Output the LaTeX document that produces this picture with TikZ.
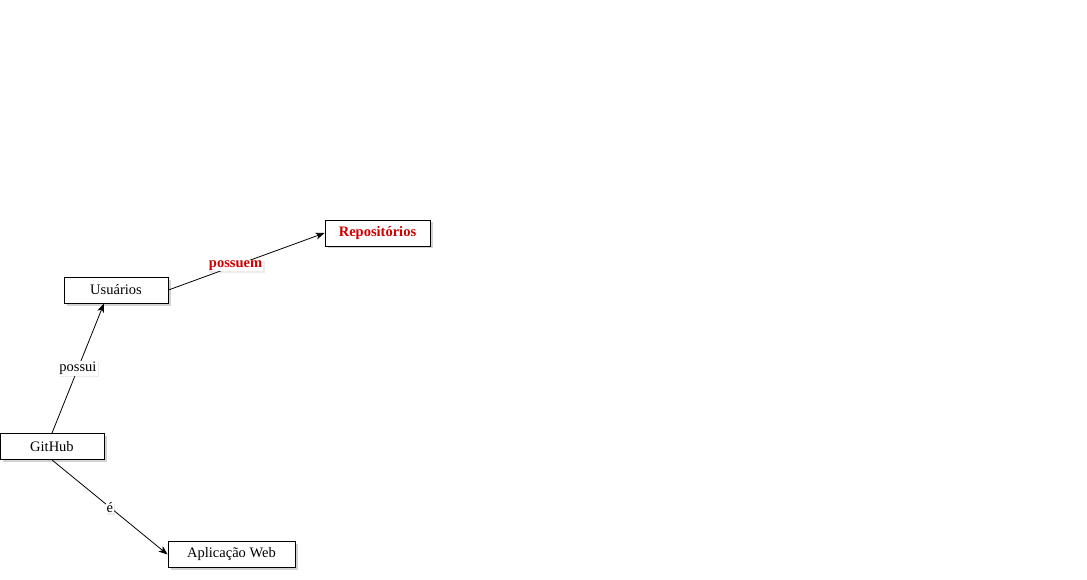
\documentclass[tikz,border=0pt]{standalone}
\usepackage{fontspec}
\setmainfont{Liberation Serif}
\usepackage{tikz}
\usetikzlibrary{positioning,shapes,arrows,arrows.meta,shadows}
\definecolor{destaque}{HTML}{CC0000}

\begin{document}
\begin{tikzpicture}[
  x=1pt, y=-1pt,
  font=\fontsize{14.5}{16}\selectfont,
  mynode/.style={draw,rectangle,fill=white,line width=0.9pt,inner sep=0pt,
    minimum height=26pt,
    drop shadow={shadow xshift=2.5pt,shadow yshift=-2.5pt,opacity=0.35}},
  myedge/.style={-{Stealth[length=9pt,width=7pt,inset=2.5pt]},line width=0.8pt},
  mylabel/.style={fill=white,inner sep=1pt,
    drop shadow={shadow xshift=1.5pt,shadow yshift=-1.5pt,opacity=0.15}}
]
\useasboundingbox (0,0) rectangle (1087,580);
\node[mynode, minimum width=104pt] (github) at (52,446.5) {GitHub};
\node[mynode, minimum width=104pt] (usuarios) at (116,290) {Usuários};
\node[mynode, minimum width=105pt, text=destaque, font=\fontsize{14.5}{16}\selectfont\bfseries] (repos) at (377.5,233) {Repositórios};
\node[mynode, minimum width=127pt] (webapp) at (231.5,554.5) {Aplicação Web};
\path (github.north) edge[myedge] node[mylabel] {possui} ([xshift=-12pt]usuarios.south)
(github.south) edge[myedge] node[mylabel] {é} (webapp.west)
(usuarios.east) edge[myedge] node[mylabel, pos=0.43, text=destaque, font=\fontsize{14.5}{16}\selectfont\bfseries] {possuem} (repos.west);
\end{tikzpicture}
\end{document}
